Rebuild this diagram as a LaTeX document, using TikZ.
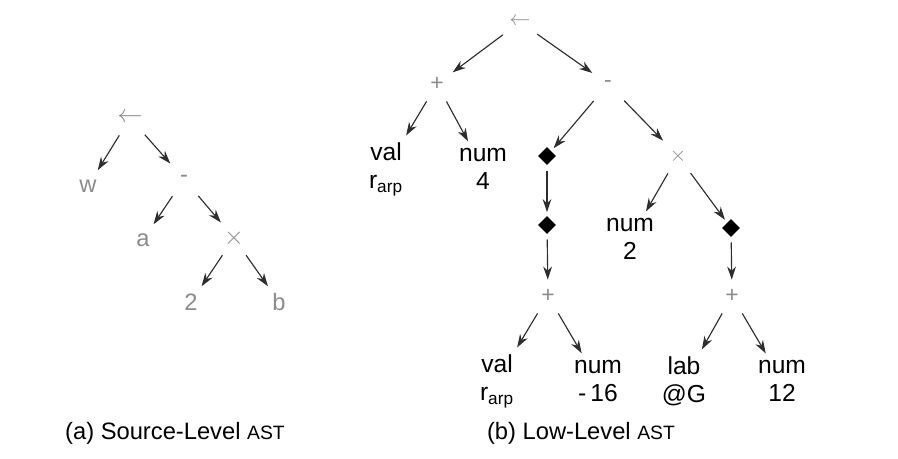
\documentclass[tikz,border=0pt]{standalone}
\usepackage{fontspec}
\setmainfont{Liberation Sans}
\usetikzlibrary{shapes.geometric, arrows.meta}
\definecolor{opcol}{HTML}{8C8C8C}
\definecolor{arrcol}{HTML}{2E2E2E}

\begin{document}
\begin{tikzpicture}[
  x=0.02cm, y=-0.02cm,
  >={Stealth[length=7.5pt, width=5pt]},
  every node/.style={align=center, inner sep=1pt},
  op/.style={text=opcol, font=\fontsize{13}{14}\selectfont, minimum size=0.5cm},
  src/.style={text=opcol, font=\fontsize{13.5}{14}\selectfont, minimum size=0.5cm},
  leaf/.style={font=\fontsize{14}{16}\selectfont, inner sep=2pt},
  mem/.style={diamond, fill=black, draw=none, inner sep=0pt, minimum size=0.36cm},
  captext/.style={font=\fontsize{13.5}{15}\selectfont},
  arr/.style={->, draw=arrcol, line width=0.65pt, shorten <=3pt, shorten >=2pt}
]
\useasboundingbox (0,0) rectangle (898,458);

%% ── (a) Source-level tree ─────────────────────────────────────────────────
\node[src] (sasg) at (130, 118) {$\leftarrow$};
\node[src] (sw)   at (88,  186) {w};
\node[src] (ssub) at (184, 179) {-};
\node[src] (sa)   at (143, 240) {a};
\node[src] (smul) at (234, 238) {$\times$};
\node[src] (stwo) at (191, 302) {2};
\node[src] (sb)   at (279, 302) {b};

\foreach \p/\c in {sasg/sw, sasg/ssub, ssub/sa, ssub/smul, smul/stwo, smul/sb}
  \draw[arr] (\p) -- (\c);

%% ── (b) Low-level tree ────────────────────────────────────────────────────
\node[op] (asg)  at (520, 22)  {$\leftarrow$};
\node[op] (addl) at (437, 84)  {+};
\node[op] (sub)  at (608, 84)  {-};

\node[leaf] (arp)  at (386, 169) {val\\r\textsubscript{arp}};
\node[leaf] (four) at (483, 169) {num\\4};
\node[mem]  (mema) at (547, 156) {};
\node[op]   (mul)  at (678, 156) {$\times$};

\node[mem]  (memb) at (547, 225) {};
\node[leaf] (two)  at (630, 239) {num\\2};
\node[mem]  (memc) at (731, 228) {};

\node[op]   (addm) at (548, 296) {+};
\node[op]   (addr) at (732, 296) {+};

\node[leaf] (arpb) at (497, 381) {val\\r\textsubscript{arp}};
\node[leaf] (neg)  at (598, 381) {num\\-\,16};
\node[leaf] (lab)  at (684, 381) {lab\\@G};
\node[leaf] (twlv) at (782, 381) {num\\12};

\foreach \p/\c in {asg/addl, asg/sub, addl/arp, addl/four, sub/mema, sub/mul,
                   mema/memb, memb/addm, mul/two, mul/memc, memc/addr,
                   addm/arpb, addm/neg, addr/lab, addr/twlv}
  \draw[arr] (\p) -- (\c);

%% ── Captions ──────────────────────────────────────────────────────────────
\node[captext] (capa) at (175, 433) {(a) Source-Level {\fontsize{11}{12}\selectfont AST}};
\node[captext] (capb) at (581, 433) {(b) Low-Level {\fontsize{11}{12}\selectfont AST}};

\end{tikzpicture}
\end{document}
